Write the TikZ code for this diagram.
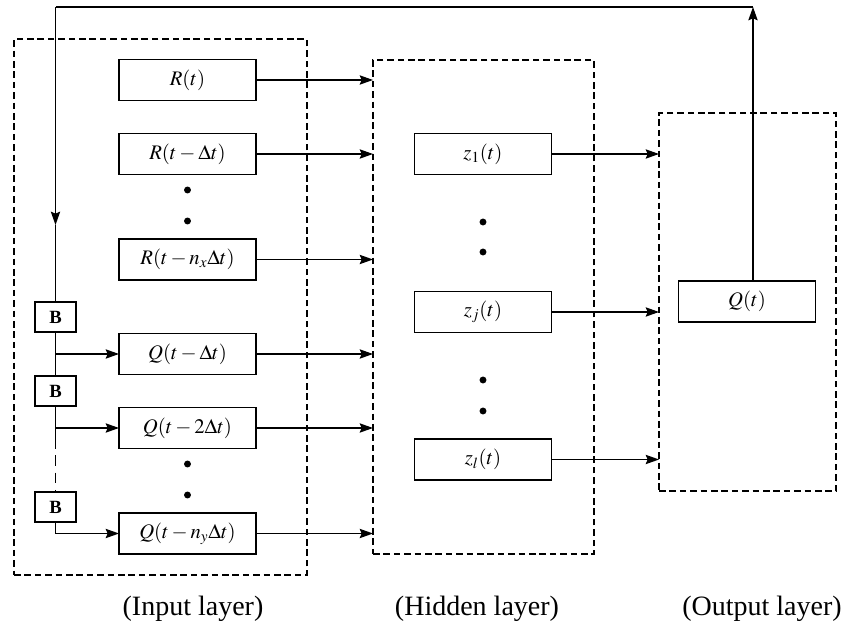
\documentclass[tikz,border=0pt]{standalone}
\usepackage{mathptmx}
\usepackage{fontspec}
\setmainfont{Liberation Serif}
\usetikzlibrary{arrows.meta}
\begin{document}
\begin{tikzpicture}[x=0.75pt,y=-0.75pt,
  box/.style={draw,line width=1pt,minimum width=102.75pt,minimum height=30.75pt,inner sep=0pt,outer sep=0pt,font=\fontsize{15.5}{18}\selectfont},
  bbox/.style={draw,line width=1pt,minimum width=30.75pt,minimum height=22.5pt,inner sep=0pt,outer sep=0pt,font=\fontsize{14}{16}\selectfont\bfseries},
  layer/.style={draw,line width=1pt,dash pattern=on 5pt off 2.8pt,inner sep=0pt,outer sep=0pt},
  arr/.style={line width=0.95pt,-{Stealth[length=10pt,width=7pt,inset=1.5pt]}},
  ln/.style={line width=0.95pt},
  dot/.style={circle,fill,inner sep=0pt,minimum size=5.2pt},
  lab/.style={font=\fontsize{21}{25}\selectfont}]
\useasboundingbox (0,0) rectangle (850,630);

% layer frames
\node[layer,minimum width=219.75pt,minimum height=402pt] (inp) at (160.5,307) {};
\node[layer,minimum width=165.75pt,minimum height=370.5pt] (hid) at (483.5,307) {};
\node[layer,minimum width=132.75pt,minimum height=283.5pt] (out) at (747.5,302) {};

% input boxes
\node[box] (r0) at (187.5,80) {$R(t)$};
\node[box] (r1) at (187.5,154) {$R(t-\Delta t)$};
\node[dot] (d1) at (187.5,190) {};
\node[dot] (d2) at (187.5,221) {};
\node[box] (rn) at (187.5,259.5) {$R(t-n_x\Delta t)$};
\node[box] (q1) at (187.5,354) {$Q(t-\Delta t)$};
\node[box] (q2) at (187.5,428) {$Q(t-2\Delta t)$};
\node[dot] (d3) at (187.5,464) {};
\node[dot] (d4) at (187.5,495) {};
\node[box] (qn) at (187.5,533.5) {$Q(t-n_y\Delta t)$};

% B boxes
\node[bbox] (b1) at (55.5,317) {B};
\node[bbox] (b2) at (55.5,391) {B};
\node[bbox] (b3) at (55.5,507) {B};

% hidden boxes
\node[box] (z1) at (483,154) {$z_1(t)$};
\node[dot] (d5) at (483,222) {};
\node[dot] (d6) at (483,252) {};
\node[box] (zj) at (483,312) {$z_j(t)$};
\node[dot] (d7) at (483,380) {};
\node[dot] (d8) at (483,411) {};
\node[box] (zl) at (483,459.5) {$z_l(t)$};

% output box
\node[box] (q) at (747,301.5) {$Q(t)$};

% input -> hidden
\foreach \n in {r0,r1,rn,q1,q2,qn}
  \draw[arr] (\n.east) -- (\n.east -| hid.west);
% hidden -> output
\foreach \n in {z1,zj,zl}
  \draw[arr] (\n.east) -- (\n.east -| out.west);

% feedback
\coordinate (tr) at (753,7);
\coordinate (tl) at (55.5,7);
\coordinate (mid) at (55.5,225);
\coordinate (c1) at (55.5,438);
\draw[arr] (q.north -| tr) -- (tr);
\draw[ln] (tr) -- (tl);
\draw[arr] (tl) -- (mid);
\draw[ln] (mid) -- (b1.north);
\draw[arr] (b1.south) |- (q1.west);
\draw[ln] (b1.south) -- (b2.north);
\draw[arr] (b2.south) |- (q2.west);
\draw[ln] (b2.south) -- (c1);
\draw[ln,dash pattern=on 8pt off 5pt] (c1) -- (b3.north);
\draw[arr] (b3.south) |- (qn.west);

% labels
\node[lab] (li) at (193,609) {(Input layer)};
\node[lab] (lh) at (477,609) {(Hidden layer)};
\node[lab] (lo) at (762,609) {(Output layer)};
\end{tikzpicture}
\end{document}
